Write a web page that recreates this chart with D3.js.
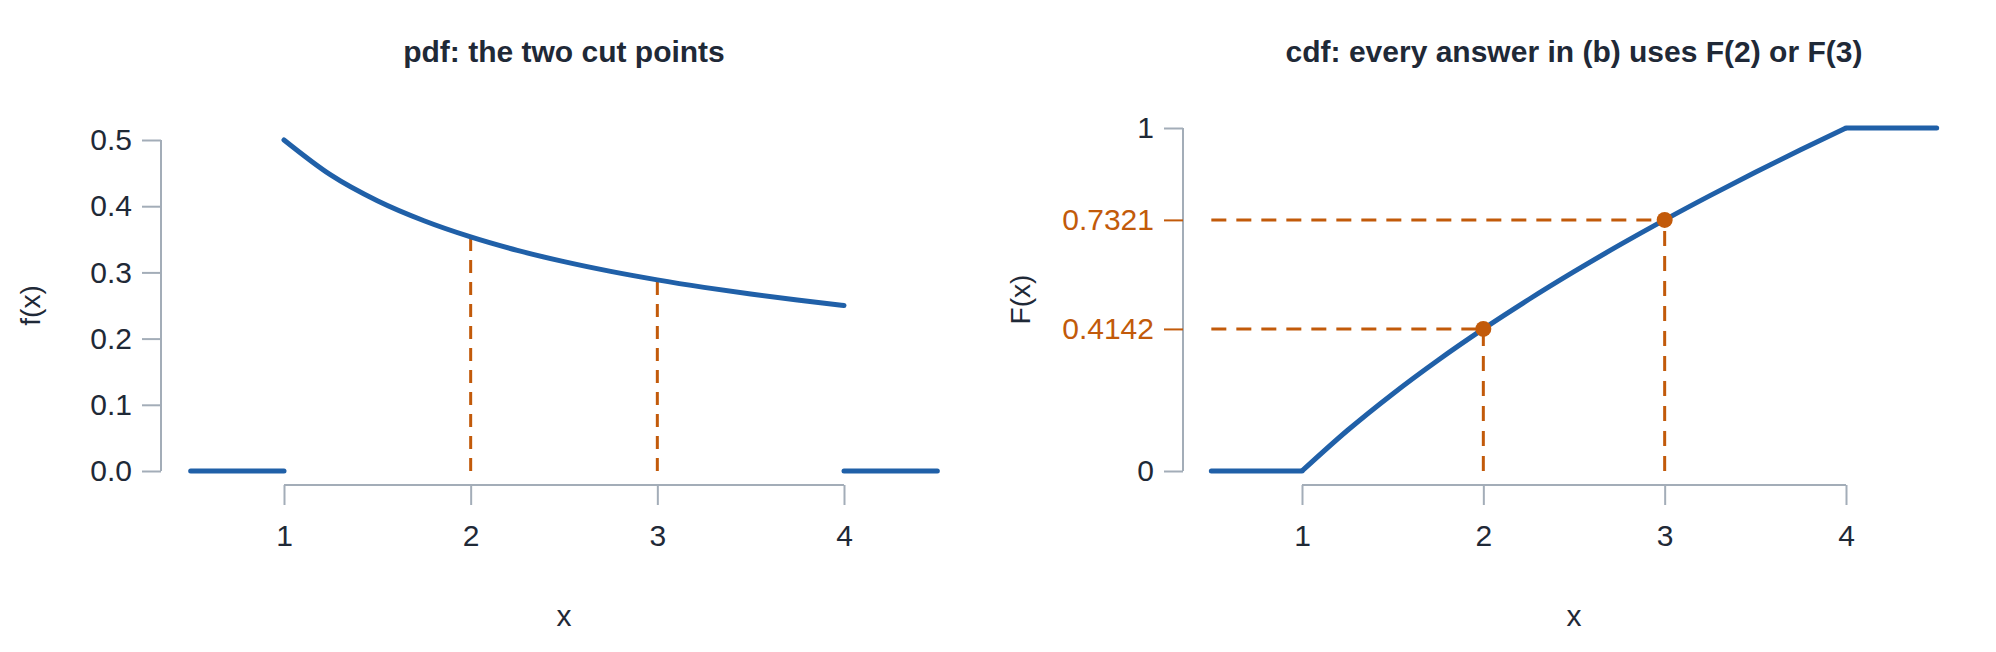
<!DOCTYPE html>
<html><head><meta charset="utf-8">
<script src="https://cdn.jsdelivr.net/npm/d3@7"></script>
<style>
body{margin:0;background:#fff}
text{font-family:"Liberation Sans",Arial,sans-serif;fill:#1f2937}
</style></head>
<body><svg id="chart" width="1996" height="652"></svg>
<script>
// values
var xs = [1, 1.25, 1.5, 1.75, 2, 2.25, 2.5, 2.75, 3, 3.25, 3.5, 3.75, 4]
var pdfVals = [0.5, 0.4472, 0.4082, 0.378, 0.3536, 0.3333, 0.3162, 0.3015, 0.2887, 0.2774, 0.2673, 0.2582, 0.25]
var cdfVals = [0, 0.118, 0.2247, 0.3229, 0.4142, 0.5, 0.5811, 0.6583, 0.7321, 0.8028, 0.8708, 0.9365, 1]
var cutX = [2, 3]
var cutF = [0.4142, 0.7321]
var cutPdf = [0.3536, 0.2887]
var xTicks = [1, 2, 3, 4]
var pdfTicks = [0, 0.1, 0.2, 0.3, 0.4, 0.5]

var blue = "#2060a8", orange = "#c25a0a", grey = "#a3adb8"
var svg = d3.select("#chart")

function panel(o) {
	var g = svg.append("g")
	var x = d3.scaleLinear().domain([1, 4]).range([o.x1, o.x4])
	var y = d3.scaleLinear().domain([0, o.ymax]).range([471, o.ytop])

	g.append("text").attr("x", (x(0.5) + x(4.5)) / 2).attr("y", 62)
		.attr("text-anchor", "middle").attr("font-weight", "bold").style("font-size", "30px")
		.text(o.title)

	// x axis
	var xa = g.append("g").attr("transform", "translate(0,485)")
		.call(d3.axisBottom(x).tickValues(xTicks).tickSize(20).tickPadding(20).tickFormat(d3.format("d")))
	xa.select(".domain").attr("d", "M" + x(1) + ",0H" + x(4)).attr("stroke", grey).attr("stroke-width", 2)
	xa.selectAll("line").attr("stroke", grey).attr("stroke-width", 2)
	xa.selectAll("text").style("font-size", "30px").style("fill", "#1f2937")

	// y axis
	var ya = g.append("g").attr("transform", "translate(" + o.ax + ",0)")
		.call(d3.axisLeft(y).tickValues(o.yTicks).tickSize(o.tick).tickPadding(10).tickFormat(o.fmt))
	ya.select(".domain").attr("d", "M0," + y(o.ymax) + "V" + y(0)).attr("stroke", grey).attr("stroke-width", 2)
	ya.selectAll("line").attr("stroke", grey).attr("stroke-width", 2)
	ya.selectAll("text").style("font-size", "30px").style("fill", "#1f2937")

	g.append("text").attr("x", (x(0.5) + x(4.5)) / 2).attr("y", 626)
		.attr("text-anchor", "middle").style("font-size", "30px").text("x")
	g.append("text").attr("transform", "translate(" + o.ylx + "," + y(o.ymax / 2) + ") rotate(-90)")
		.attr("text-anchor", "middle").style("font-size", "28px").text(o.ylab)
	return {g: g, x: x, y: y, ya: ya}
}

// pdf panel
var p1 = panel({x1: 284, x4: 844, ax: 161, ymax: 0.5, ytop: 140, yTicks: pdfTicks, tick: 19,
	fmt: d3.format(".1f"), title: "pdf: the two cut points", ylab: "f(x)", ylx: 40})
var line1 = d3.line().x(function(d, i) { return p1.x(xs[i]) }).y(function(d) { return p1.y(d) }).curve(d3.curveMonotoneX)
cutX.forEach(function(c, i) {
	p1.g.append("line").attr("x1", p1.x(c)).attr("x2", p1.x(c)).attr("y1", p1.y(0)).attr("y2", p1.y(cutPdf[i]))
		.attr("stroke", orange).attr("stroke-width", 3).attr("stroke-dasharray", "13,9")
})
p1.g.append("path").attr("d", line1(pdfVals)).attr("fill", "none").attr("stroke", blue).attr("stroke-width", 5).attr("stroke-linecap", "round")
p1.g.append("path").attr("d", "M" + p1.x(0.5) + "," + p1.y(0) + "H" + p1.x(1)).attr("stroke", blue).attr("stroke-width", 5).attr("stroke-linecap", "round")
p1.g.append("path").attr("d", "M" + p1.x(4) + "," + p1.y(0) + "H" + p1.x(4.5)).attr("stroke", blue).attr("stroke-width", 5).attr("stroke-linecap", "round")

// cdf panel
var p2 = panel({x1: 1302, x4: 1846, ax: 1183, ymax: 1, ytop: 128, yTicks: [0, 0.4142, 0.7321, 1], tick: 19,
	fmt: function(d) { return d == 0 || d == 1 ? d : d3.format(".4f")(d) }, title: "cdf: every answer in (b) uses F(2) or F(3)", ylab: "F(x)", ylx: 1030})
p2.ya.selectAll(".tick").each(function(d) {
	if (d > 0 && d < 1) {
		d3.select(this).select("text").style("fill", orange)
		d3.select(this).select("line").attr("stroke", orange)
	}
})
var line2 = d3.line().x(function(d, i) { return p2.x(xs[i]) }).y(function(d) { return p2.y(d) }).curve(d3.curveMonotoneX)
cutX.forEach(function(c, i) {
	p2.g.append("line").attr("x1", p2.x(0.5)).attr("x2", p2.x(c)).attr("y1", p2.y(cutF[i])).attr("y2", p2.y(cutF[i]))
		.attr("stroke", orange).attr("stroke-width", 3).attr("stroke-dasharray", "15,10")
	p2.g.append("line").attr("x1", p2.x(c)).attr("x2", p2.x(c)).attr("y1", p2.y(0)).attr("y2", p2.y(cutF[i]))
		.attr("stroke", orange).attr("stroke-width", 3).attr("stroke-dasharray", "15,10")
})
p2.g.append("path").attr("d", line2(cdfVals)).attr("fill", "none").attr("stroke", blue).attr("stroke-width", 5)
p2.g.append("path").attr("d", "M" + p2.x(0.5) + "," + p2.y(0) + "H" + p2.x(1)).attr("stroke", blue).attr("stroke-width", 5).attr("stroke-linecap", "round")
p2.g.append("path").attr("d", "M" + p2.x(4) + "," + p2.y(1) + "H" + p2.x(4.5)).attr("stroke", blue).attr("stroke-width", 5).attr("stroke-linecap", "round")
p2.g.selectAll(".pt").data(cutX).enter().append("circle")
	.attr("cx", function(d) { return p2.x(d) }).attr("cy", function(d, i) { return p2.y(cutF[i]) })
	.attr("r", 8).attr("fill", orange)
</script></body></html>
